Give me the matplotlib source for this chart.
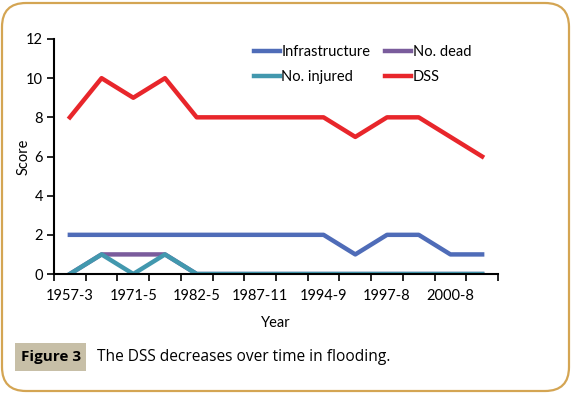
import matplotlib
matplotlib.use("Agg")
import matplotlib.pyplot as plt
from matplotlib.patches import FancyBboxPatch, Rectangle
from matplotlib.transforms import IdentityTransform

# category labels (Excel only shows every other one)
years = ["1957-3", "", "1971-5", "", "1982-5", "", "1987-11", "",
         "1994-9", "", "1997-8", "", "2000-8", ""]
infrastructure = [2, 2, 2, 2, 2, 2, 2, 2, 2, 1, 2, 2, 1, 1]
no_dead = [0, 1, 1, 1, 0, 0, 0, 0, 0, 0, 0, 0, 0, 0]
no_injured = [0, 1, 0, 1, 0, 0, 0, 0, 0, 0, 0, 0, 0, 0]
dss = [8, 10, 9, 10, 8, 8, 8, 8, 8, 7, 8, 8, 7, 6]

plt.rcParams['font.family'] = ['Lato', 'DejaVu Sans']

W, H = 576, 398
fig = plt.figure(figsize=(W / 100, H / 100), dpi=100)

# rounded frame around the whole figure
frame = FancyBboxPatch((2, 7), 567, 388, boxstyle="round,pad=0,rounding_size=24",
                       transform=IdentityTransform(), facecolor='white',
                       edgecolor='#D4A553', linewidth=1.6, zorder=0)
fig.add_artist(frame)

ax = fig.add_axes([54 / W, 1 - 274 / H, 444 / W, 235 / H])
ax.set_facecolor('none')
x = list(range(len(years)))

lw = 3.2
ln_inf, = ax.plot(x, infrastructure, color='#4F6CB8', lw=lw, label='Infrastructure')
ln_dead, = ax.plot(x, no_dead, color='#7A5C9C', lw=lw, label='No. dead')
ln_inj, = ax.plot(x, no_injured, color='#4298AE', lw=lw, label='No. injured')
ln_dss, = ax.plot(x, dss, color='#E8262B', lw=lw, label='DSS')

ax.set_xlim(-0.5, len(years) - 0.5)
ax.set_ylim(0, 12)
ax.set_yticks(range(0, 13, 2))
ax.set_xticks(x)
ax.set_xticklabels(years)
ax.tick_params(axis='x', which='major', length=0, pad=11, labelsize=10.5)
ax.set_xticks([i - 0.5 for i in range(len(years) + 1)], minor=True)
ax.tick_params(axis='x', which='minor', length=5, width=1.2, direction='out')
ax.tick_params(axis='y', length=5, width=1.2, direction='out', labelsize=10.5, pad=3)
for s in ['top', 'right']:
    ax.spines[s].set_visible(False)
for s in ['left', 'bottom']:
    ax.spines[s].set_linewidth(1.5)
ax.set_xlabel('Year', fontsize=10.5, labelpad=9)
ax.set_ylabel('Score', fontsize=10.5)
ax.yaxis.set_label_coords(-0.053, 0.5)

ax.legend([ln_inf, ln_inj, ln_dead, ln_dss],
          ['Infrastructure', 'No. injured', 'No. dead', 'DSS'],
          ncol=2, frameon=False, fontsize=10.5, loc='upper left',
          bbox_to_anchor=(0.42, 1.03), handlelength=1.8, handletextpad=0.1,
          columnspacing=1.0, labelspacing=0.75)

# caption
fig.add_artist(Rectangle((15, 27), 71, 28, transform=IdentityTransform(),
                         facecolor='#C7BFA7', edgecolor='none'))
fig.text(51 / W, 1 - 357 / H, 'Figure 3', fontsize=11, fontweight='bold',
         family=['Open Sans', 'DejaVu Sans'], ha='center', va='center')
fig.text(97 / W, 1 - 357 / H, 'The DSS decreases over time in flooding.', fontsize=11.2,
         family=['Open Sans', 'DejaVu Sans'], ha='left', va='center')

fig.savefig('out.png', dpi=100)
